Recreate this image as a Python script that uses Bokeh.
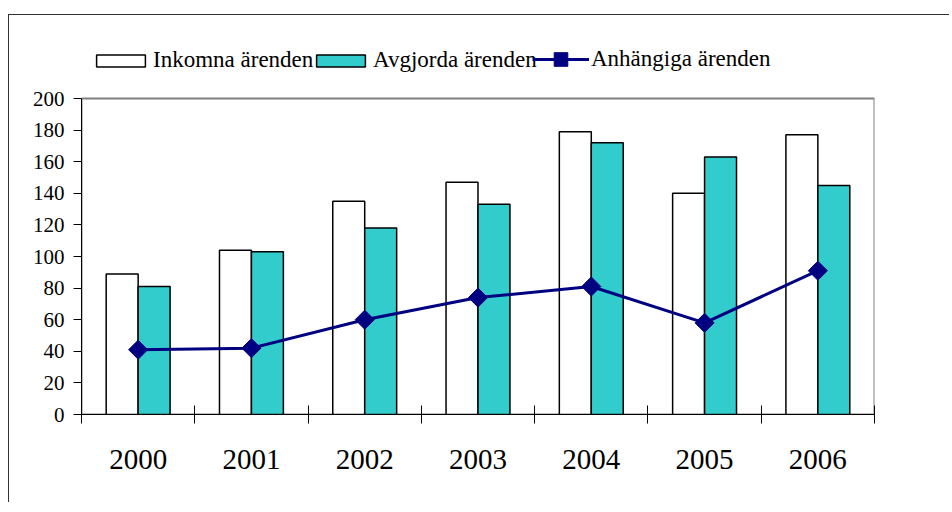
import numpy as np
from bokeh.plotting import figure
from bokeh.models import (Range1d, FixedTicker, LinearAxis, Legend, LegendItem,
                          ColumnDataSource)
from bokeh.embed import file_html
from bokeh.resources import INLINE

# ---- data ----
years = ["2000", "2001", "2002", "2003", "2004", "2005", "2006"]
inkomna = [89, 104, 135, 147, 179, 140, 177]
avgjorda = [81, 103, 118, 133, 172, 163, 145]
anhangiga = [41, 42, 60, 74, 81, 58, 91]
series_labels = ["Inkomna ärenden", "Avgjorda ärenden", "Anhängiga ärenden"]
y_ticks = [0, 20, 40, 60, 80, 100, 120, 140, 160, 180, 200]
y_min, y_max = 0, 200

FONT = "Liberation Serif"
n = len(years)
pos = np.arange(n)
bar_w = 0.282
off = 0.141
# the frame extends above the value area to leave room for the legend
Y_TOP = y_max * 384.0 / 316.0

src = ColumnDataSource(dict(
    x=pos, x_in=pos - off, x_av=pos + off,
    inkomna=inkomna, avgjorda=avgjorda, anhangiga=anhangiga,
))

p = figure(width=941, height=488, output_backend="svg", toolbar_location=None,
           x_range=Range1d(-0.5, n - 0.5), y_range=Range1d(y_min, Y_TOP),
           x_axis_type=None, y_axis_type=None,
           min_border_left=72, min_border_right=76, min_border_top=15,
           min_border_bottom=89,
           styles={"border-left": "1px solid #333", "border-top": "1px solid #333",
                   "margin-top": "14px", "margin-left": "8px"})
p.background_fill_color = "white"
p.border_fill_color = "white"
p.outline_line_color = None

# plot-area box (gray outline of the value area)
p.quad(left=[-0.5], right=[n - 0.5], bottom=[y_min], top=[y_max],
       fill_color=None, line_color="#808080", line_width=2)

# axes
yaxis = LinearAxis(ticker=FixedTicker(ticks=y_ticks), bounds=(y_min, y_max))
yaxis.axis_line_color = "black"
yaxis.axis_line_width = 1
yaxis.major_tick_out = 8
yaxis.major_tick_in = 0
yaxis.major_tick_line_color = "black"
yaxis.minor_tick_line_color = None
yaxis.major_label_standoff = 9
yaxis.major_label_text_font = FONT
yaxis.major_label_text_font_size = "21px"
yaxis.major_label_text_color = "black"
p.add_layout(yaxis, "left")

xaxis = LinearAxis(ticker=FixedTicker(ticks=list(pos), minor_ticks=list(np.arange(n + 1) - 0.5)))
xaxis.major_label_overrides = {int(i): years[i] for i in range(n)}
xaxis.axis_line_color = "black"
xaxis.axis_line_width = 1
xaxis.major_tick_line_color = None
xaxis.major_tick_in = 0
xaxis.major_tick_out = 0
xaxis.minor_tick_line_color = "black"
xaxis.minor_tick_in = 9
xaxis.minor_tick_out = 9
xaxis.major_label_standoff = 26
xaxis.major_label_text_font = FONT
xaxis.major_label_text_font_size = "29px"
xaxis.major_label_text_color = "black"
p.add_layout(xaxis, "below")

p.ygrid.grid_line_color = "#666666"
p.ygrid.grid_line_width = 1
p.ygrid.ticker = FixedTicker(ticks=y_ticks)
p.xgrid.grid_line_color = None

r1 = p.vbar(x="x_in", top="inkomna", width=bar_w, source=src,
            fill_color="white", line_color="black", line_width=1.5)
r2 = p.vbar(x="x_av", top="avgjorda", width=bar_w, source=src,
            fill_color="#33CCCC", line_color="black", line_width=1.5)
r3 = p.line(x="x", y="anhangiga", source=src, line_color="#000080", line_width=3)
r4 = p.scatter(x="x", y="anhangiga", source=src, marker="square", angle=np.pi / 4,
               size=13.5, fill_color="#000080", line_color="#000080")


def make_legend(label, renderers, loc, gw, gh):
    lg = Legend(items=[LegendItem(label=label, renderers=renderers)],
                orientation="horizontal", location=loc)
    lg.label_text_font = FONT
    lg.label_text_font_size = "23px"
    lg.label_text_color = "black"
    lg.glyph_width = gw
    lg.glyph_height = gh
    lg.label_standoff = 2
    lg.padding = 0
    lg.margin = 0
    lg.border_line_color = None
    lg.background_fill_alpha = 0
    return lg


p.add_layout(make_legend(series_labels[0], [r1], (9, 341), 61, 15), "center")
p.add_layout(make_legend(series_labels[1], [r2], (229, 341), 61, 15), "center")
p.add_layout(make_legend(series_labels[2], [r3, r4], (451, 338), 57, 34), "center")

open("out.html", "w").write(file_html(p, INLINE))
